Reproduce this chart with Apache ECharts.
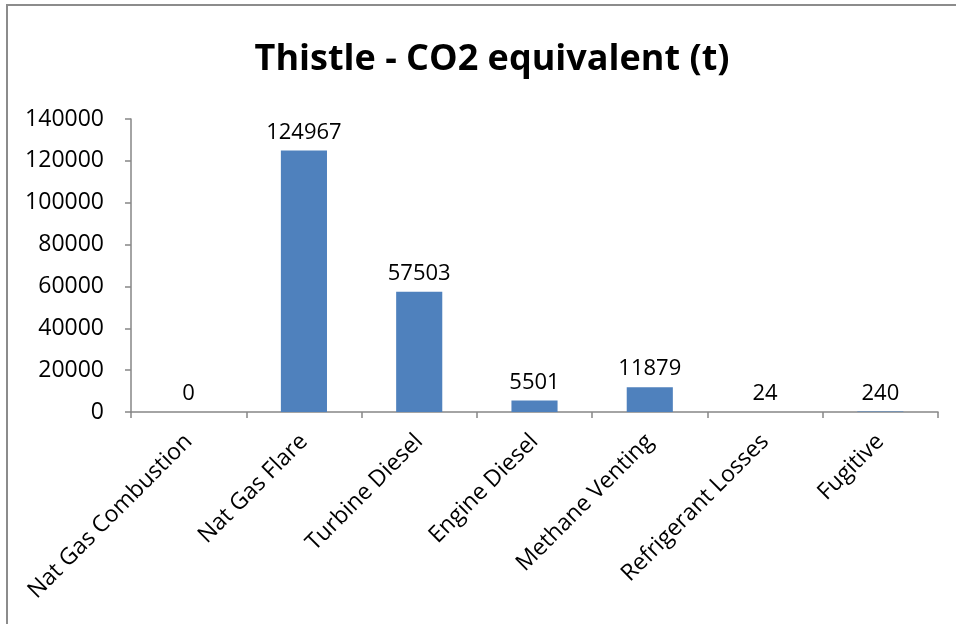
<!DOCTYPE html>
<html>
<head>
<meta charset="utf-8">
<script src="https://cdn.jsdelivr.net/npm/echarts@6/dist/echarts.min.js"></script>
<style>
  html, body { margin: 0; padding: 0; background: #fff; }
  #chart { width: 956px; height: 624px; }
</style>
</head>
<body>
<div id="chart"></div>
<script>
// Emission sources and their CO2-equivalent totals (tonnes)
const categories = ['Nat Gas Combustion', 'Nat Gas Flare', 'Turbine Diesel', 'Engine Diesel',
  'Methane Venting', 'Refrigerant Losses', 'Fugitive'];
const co2Values = [0, 124967, 57503, 5501, 11879, 24, 240];
const yTicks = { min: 0, max: 140000, step: 20000 };

const FONT = '"Open Sans", "Noto Sans", sans-serif';
const chart = echarts.init(document.getElementById('chart'));

chart.setOption({
  backgroundColor: '#ffffff',
  animation: false,
  title: {
    text: 'Thistle - CO2 equivalent (t)',
    left: 487,
    top: 37,
    textAlign: 'center',
    textStyle: { fontFamily: FONT, fontSize: 36, fontWeight: 'bold', color: '#000' }
  },
  graphic: [{
    type: 'rect',
    shape: { x: 7, y: 5, width: 1000, height: 700 },
    style: { fill: 'none', stroke: '#8c8c8c', lineWidth: 2 },
    silent: true
  }],
  grid: { left: 131, right: 18, top: 119, bottom: 212, containLabel: false },
  xAxis: {
    type: 'category',
    data: categories,
    axisLine: { lineStyle: { color: '#868686', width: 1.5 } },
    axisTick: { show: true, length: 6, lineStyle: { color: '#868686', width: 1.5 } },
    axisLabel: { rotate: 45, margin: 26, fontFamily: FONT, fontSize: 23, color: '#000', interval: 0 },
    splitLine: { show: false }
  },
  yAxis: {
    type: 'value',
    min: yTicks.min,
    max: yTicks.max,
    interval: yTicks.step,
    axisLine: { show: true, lineStyle: { color: '#868686', width: 1.5 } },
    axisTick: { show: true, length: 6, lineStyle: { color: '#868686', width: 1.5 } },
    axisLabel: {
      margin: 27,
      fontFamily: FONT,
      fontSize: 23,
      color: '#000',
      formatter: (v) => String(v)
    },
    splitLine: { show: false }
  },
  series: [{
    type: 'bar',
    data: co2Values,
    barWidth: '40%',
    itemStyle: { color: '#4f81bd' },
    label: {
      show: true,
      position: 'top',
      distance: 7,
      fontFamily: FONT,
      fontSize: 22,
      color: '#000'
    }
  }]
});
</script>
</body>
</html>
